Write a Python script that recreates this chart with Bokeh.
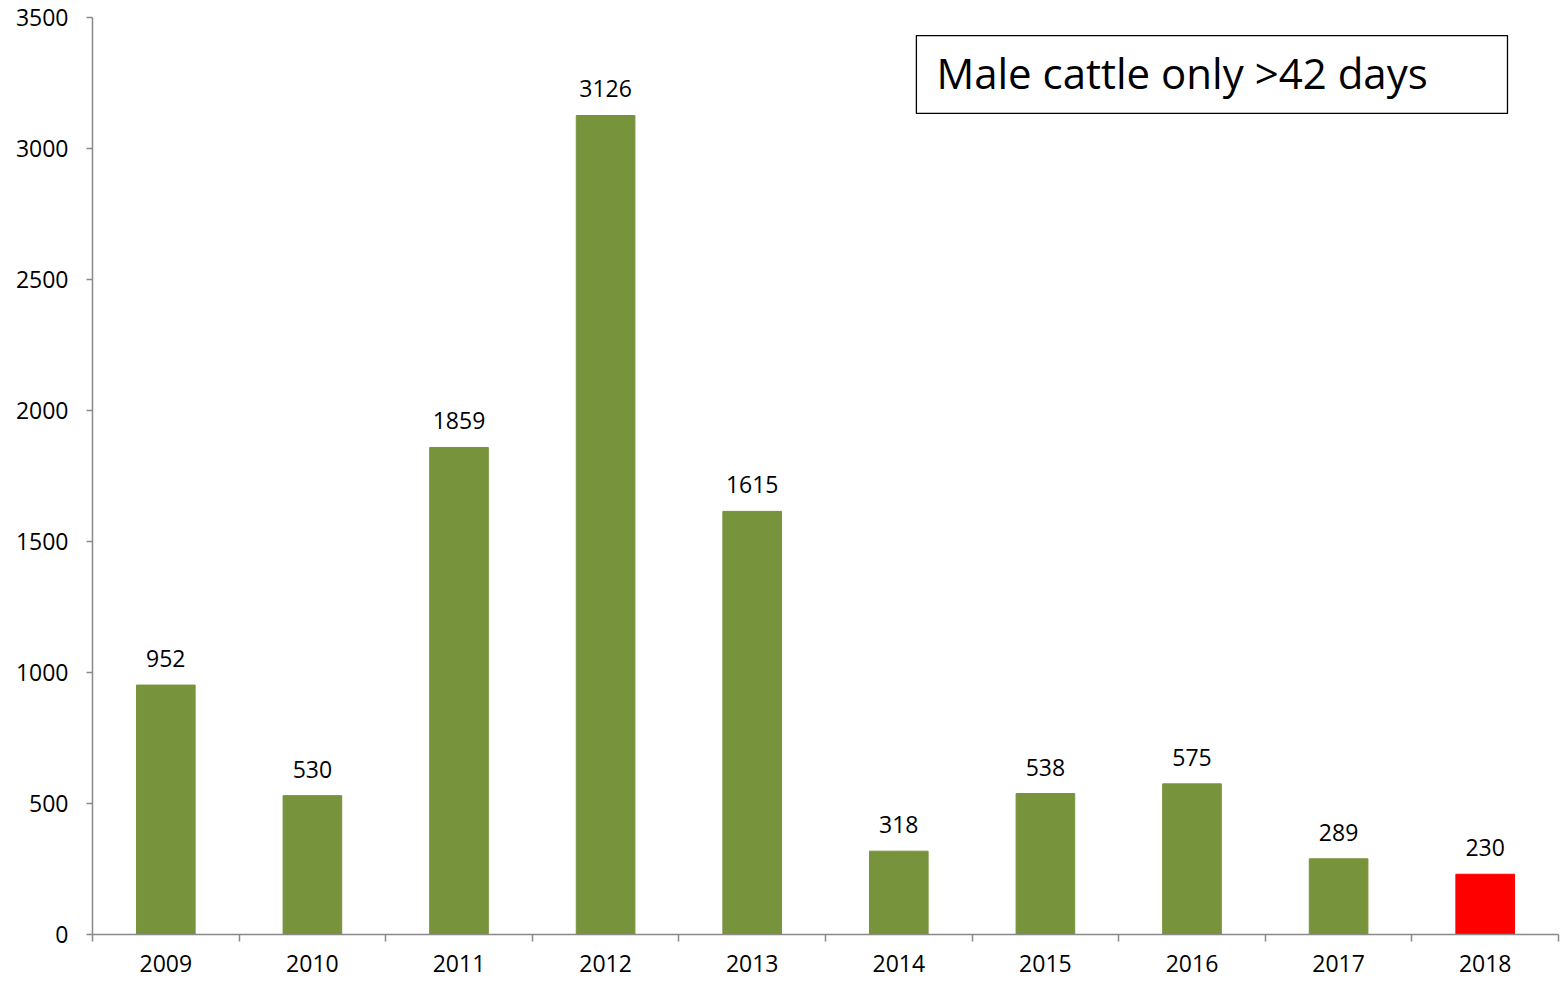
from bokeh.plotting import figure
from bokeh.models import (ColumnDataSource, Range1d, FixedTicker, LabelSet,
                          BoxAnnotation, Label)
from bokeh.core.properties import value
from bokeh.embed import file_html
from bokeh.resources import INLINE

# ---- data ----
years = ["2009", "2010", "2011", "2012", "2013", "2014", "2015", "2016", "2017", "2018"]
counts = [952, 530, 1859, 3126, 1615, 318, 538, 575, 289, 230]
highlight_year = "2018"
y_ticks = [0, 500, 1000, 1500, 2000, 2500, 3000, 3500]
title_text = "Male cattle only >42 days"

GREEN = "#77933C"
RED = "#FF0000"
AXIS = "#898989"
FONT = "Open Sans"

xs = [i + 0.5 for i in range(len(years))]
colors = [RED if y == highlight_year else GREEN for y in years]
src = ColumnDataSource(dict(x=xs, top=counts, color=colors,
                            label=[str(c) for c in counts]))

p = figure(frame_width=1466, frame_height=917,
           min_border_left=92, min_border_top=17, min_border_bottom=47,
           min_border_right=2,
           x_range=Range1d(0, len(years)), y_range=Range1d(0, 3500),
           output_backend="svg", toolbar_location=None)

p.vbar(x="x", top="top", width=0.4, color="color", source=src)

p.add_layout(LabelSet(x="x", y="top", text="label", source=src,
                      y_offset=18, text_align="center",
                      text_baseline="alphabetic",
                      text_font=value(FONT), text_font_size=value("23px"),
                      text_color=value("black")))

# x axis: labels at centers, ticks at category boundaries
p.xaxis.ticker = FixedTicker(ticks=xs, minor_ticks=list(range(len(years) + 1)))
p.xaxis.major_label_overrides = {x: y for x, y in zip(xs, years)}
p.xaxis.major_tick_out = 0
p.xaxis.major_tick_in = 0
p.xaxis.minor_tick_out = 7
p.xaxis.minor_tick_in = 0
p.xaxis.minor_tick_line_color = AXIS
p.xaxis.minor_tick_line_width = 1.5
p.xaxis.major_label_standoff = 13

p.yaxis.ticker = FixedTicker(ticks=y_ticks)
p.yaxis.major_tick_out = 6
p.yaxis.major_tick_in = 0
p.yaxis.minor_tick_line_color = None
p.yaxis.major_label_standoff = 18

for ax in (p.xaxis, p.yaxis):
    ax.axis_line_color = AXIS
    ax.axis_line_width = 1.5
    ax.major_tick_line_color = AXIS
    ax.major_tick_line_width = 1.5
    ax.major_label_text_font = FONT
    ax.major_label_text_font_size = "23px"
    ax.major_label_text_color = "black"

p.grid.visible = False
p.outline_line_color = None

# legend-like text box
p.add_layout(BoxAnnotation(left=5.62, right=9.652, top=3431, bottom=3134,
                           fill_color="white", fill_alpha=1.0,
                           line_color="black", line_alpha=1.0, line_width=1.3,
                           level="annotation"))
p.add_layout(Label(x=5.62, y=3290, x_offset=20, text=title_text,
                   text_font=FONT, text_font_size="42px",
                   text_baseline="alphabetic", text_color="black",
                   level="overlay"))

open("out.html", "w").write(file_html(p, INLINE))
